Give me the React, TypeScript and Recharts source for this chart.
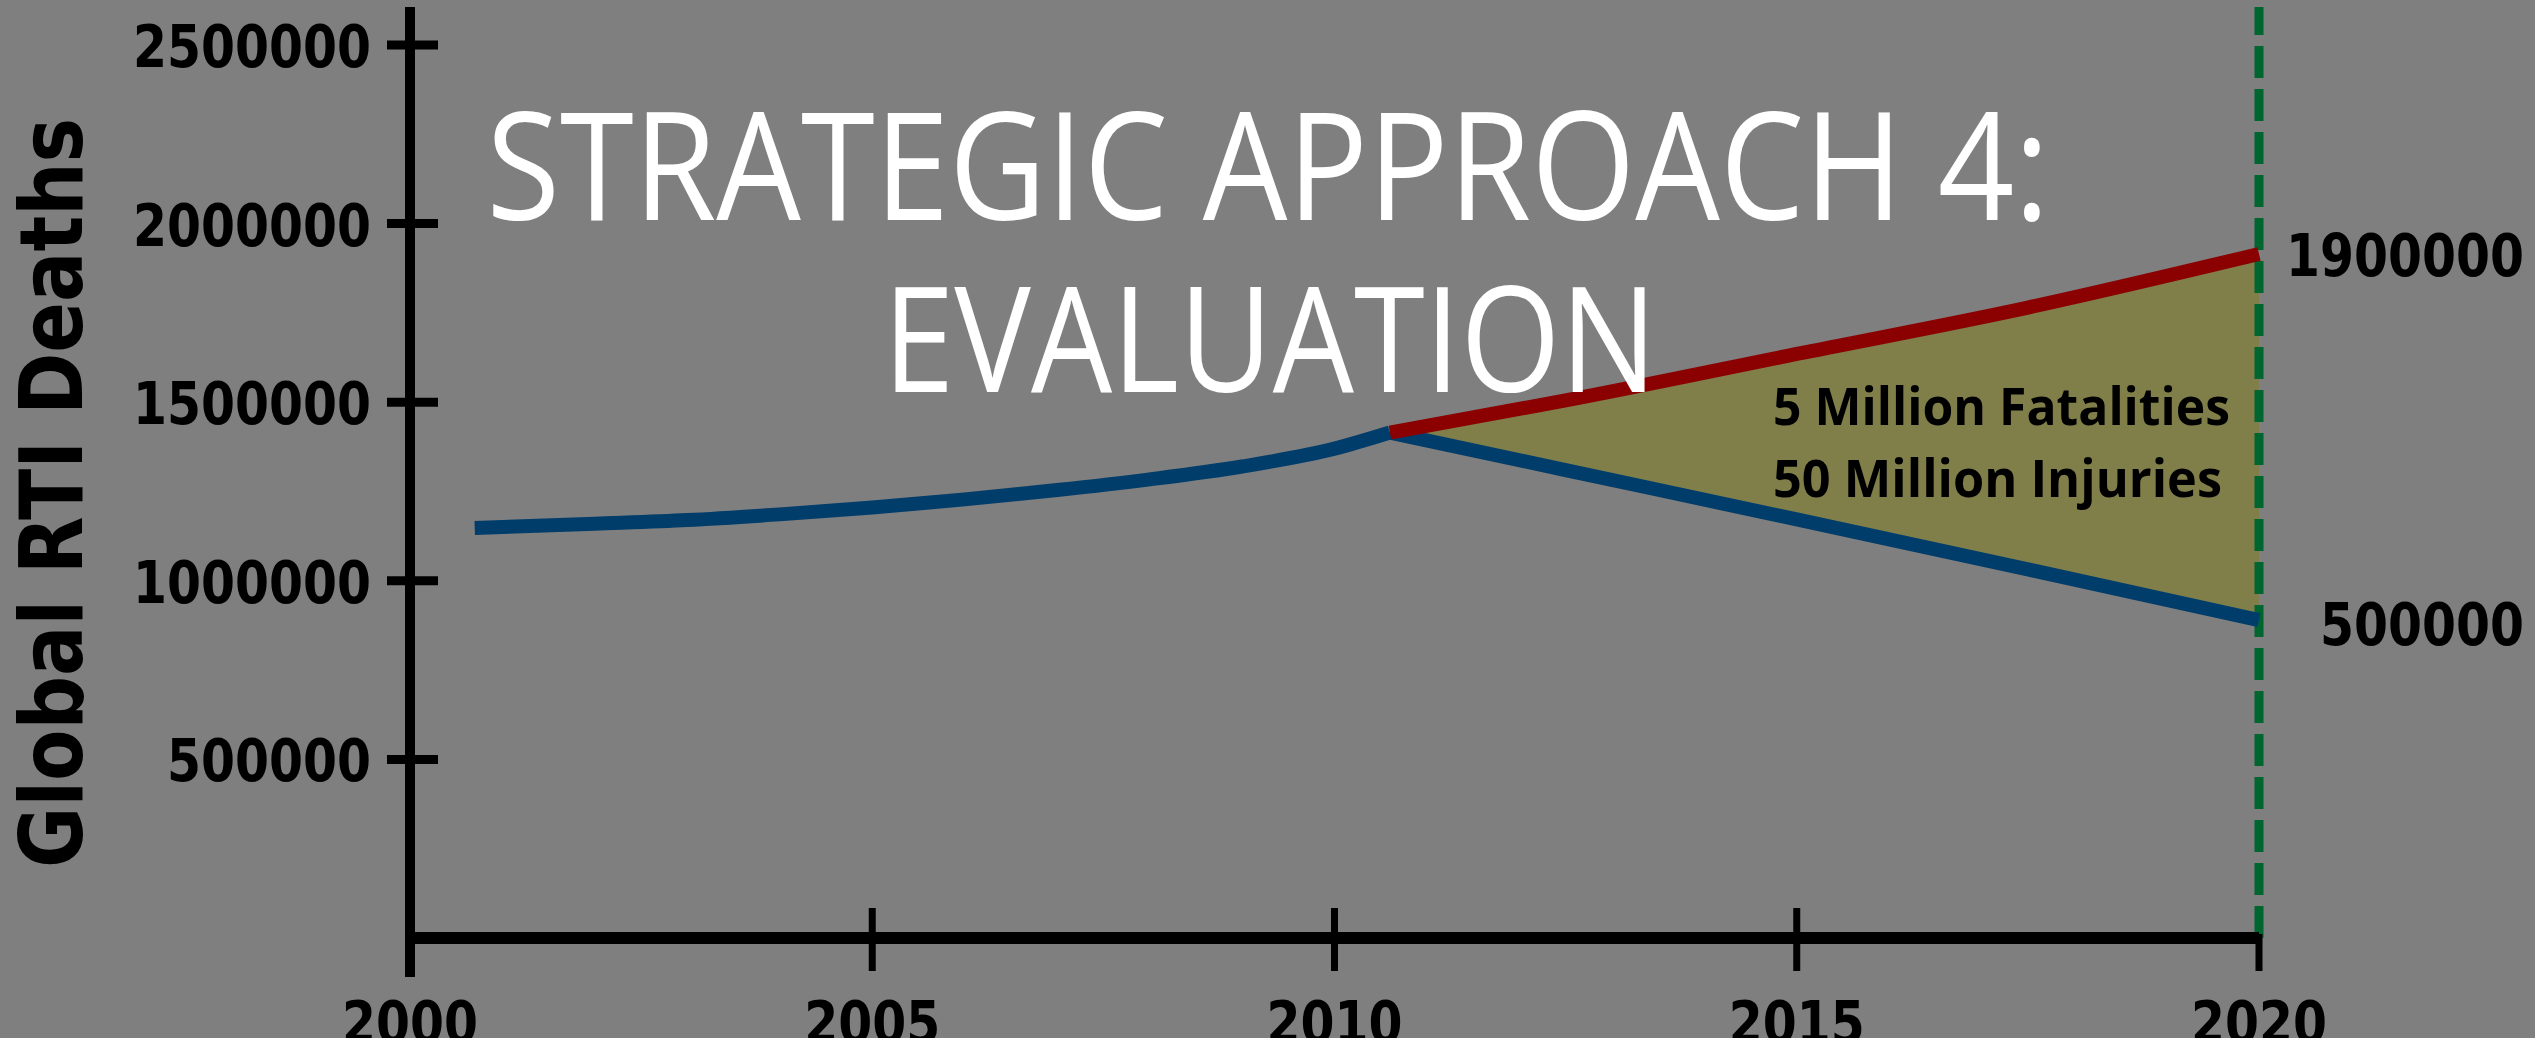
import React from 'react';
import { ComposedChart, Line, Area, XAxis, YAxis, ReferenceLine, ReferenceDot } from 'recharts';

// values
const pastYears = [2000.7, 2002, 2003, 2004, 2005, 2006, 2007, 2008, 2009, 2010, 2010.6];
const pastDeaths = [1148000, 1160000, 1170000, 1186000, 1205000, 1228000, 1254000, 1284000, 1320000, 1370000, 1415000];
const futureYears = [2010.6, 2012.5, 2015, 2017.5, 2020];
const deathsNoAction = [1415000, 1505000, 1635000, 1765000, 1915000];
const deathsWithAction = [1415000, 1310000, 1172000, 1032000, 890000];
const yearTicks = [2000, 2005, 2010, 2015, 2020];
const deathTicks = [500000, 1000000, 1500000, 2000000, 2500000];
const endLabels = ['1900000', '500000'];
const gapNote = ['5 Million Fatalities', '50 Million Injuries'];
const titleLines = ['STRATEGIC APPROACH 4:', 'EVALUATION'];
const yTitle = 'Global RTI Deaths';

const pastData = pastYears.map((year, i) => ({ year, deaths: pastDeaths[i] }));
const futureData = futureYears.map((year, i) => ({
  year,
  noAction: deathsNoAction[i],
  withAction: deathsWithAction[i],
  gap: [deathsWithAction[i], deathsNoAction[i]],
}));

const W = 2535;
const H = 1038;
const numFont = 'DejaVu Sans, Verdana, sans-serif';

const YTick = (props: any) => {
  const { x, y, payload } = props;
  const s = String(payload.value);
  return (
    <g>
      <line x1={x - 23} x2={x + 28} y1={y} y2={y} stroke="#000" strokeWidth={9} />
      <text x={x - 39} y={y + 22} textAnchor="end" fontFamily={numFont} fontWeight="bold" fontSize={59}
        fill="#000" textLength={34 * s.length} lengthAdjust="spacingAndGlyphs">{s}</text>
    </g>
  );
};

const XTick = (props: any) => {
  const { x, y, payload } = props;
  const s = String(payload.value);
  const last = payload.value === 2020;
  const first = payload.value === 2000;
  return (
    <g>
      <line x1={x} x2={x} y1={last ? y - 4 : y - 30} y2={first ? y + 39 : y + 33} stroke="#000" strokeWidth={first ? 10 : 7} />
      <text x={x} y={y + 105} textAnchor="middle" fontFamily={numFont} fontWeight="bold" fontSize={59}
        fill="#000" textLength={34 * s.length} lengthAdjust="spacingAndGlyphs">{s}</text>
    </g>
  );
};

const endLabel = (text: string, dy: number) => (props: any) => {
  const { viewBox } = props;
  const cx = viewBox.x + viewBox.width / 2;
  const cy = viewBox.y + viewBox.height / 2;
  return (
    <text x={cx + 265} y={cy + dy} textAnchor="end" fontFamily={numFont} fontWeight="bold" fontSize={59}
      fill="#000" textLength={34 * text.length} lengthAdjust="spacingAndGlyphs">{text}</text>
  );
};

export default function App() {
  return (
    <div style={{ position: 'relative', width: W, height: H, background: '#7f7f7f', overflow: 'hidden' }}>
      <style>{'body{margin:0}'}</style>
      <ComposedChart width={W} height={H} margin={{ top: 7, right: 276, bottom: 0, left: 110 }}>
        <XAxis type="number" dataKey="year" domain={[2000, 2020]} ticks={yearTicks} height={100}
          axisLine={{ stroke: '#000', strokeWidth: 12 }} tickLine={false} tickSize={0} tickMargin={0} tick={XTick} />
        <YAxis type="number" domain={[0, 2606400]} ticks={deathTicks} width={300}
          axisLine={{ stroke: '#000', strokeWidth: 10 }} tickLine={false} tickSize={0} tickMargin={0} tick={YTick} />
        <Area data={futureData} dataKey="gap" type="monotone" fill="#807f4a" fillOpacity={1} stroke="none"
          isAnimationActive={false} dot={false} activeDot={false} />
        <ReferenceLine x={2020} stroke="#00652e" strokeWidth={9} strokeDasharray="32 11" />
        <Line data={pastData} dataKey="deaths" type="monotone" stroke="#003d6b" strokeWidth={14}
          dot={false} activeDot={false} isAnimationActive={false} />
        <Line data={futureData} dataKey="withAction" type="monotone" stroke="#003d6b" strokeWidth={14}
          dot={false} activeDot={false} isAnimationActive={false} />
        <Line data={futureData} dataKey="noAction" type="monotone" stroke="#8b0000" strokeWidth={14}
          dot={false} activeDot={false} isAnimationActive={false} />
        <ReferenceDot x={2020} y={deathsNoAction[deathsNoAction.length - 1]} r={1} fill="none" stroke="none"
          label={endLabel(endLabels[0], 22)} />
        <ReferenceDot x={2020} y={deathsWithAction[deathsWithAction.length - 1]} r={1} fill="none" stroke="none"
          label={endLabel(endLabels[1], 25)} />
      </ComposedChart>
      <svg width={W} height={H} style={{ position: 'absolute', left: 0, top: 0, pointerEvents: 'none' }}>
        <text x={82} y={493} transform="rotate(-90 82 493)" textAnchor="middle" fontFamily={numFont}
          fontWeight="bold" fontSize={88} fill="#000" textLength={750} lengthAdjust="spacingAndGlyphs">{yTitle}</text>
        <text x={1773} y={425} fontFamily="Open Sans, sans-serif" fontWeight="bold" fontSize={52} fill="#000"
          textLength={457} lengthAdjust="spacingAndGlyphs">{gapNote[0]}</text>
        <text x={1773} y={497} fontFamily="Open Sans, sans-serif" fontWeight="bold" fontSize={52} fill="#000"
          textLength={449} lengthAdjust="spacingAndGlyphs">{gapNote[1]}</text>
        <text x={1268} y={220} textAnchor="middle" fontFamily="Open Sans, sans-serif" fontSize={150} fill="#fff"
          textLength={1563} lengthAdjust="spacingAndGlyphs">{titleLines[0]}</text>
        <text x={1270} y={392} textAnchor="middle" fontFamily="Open Sans, sans-serif" fontSize={146} fill="#fff"
          textLength={774} lengthAdjust="spacingAndGlyphs">{titleLines[1]}</text>
      </svg>
    </div>
  );
}
